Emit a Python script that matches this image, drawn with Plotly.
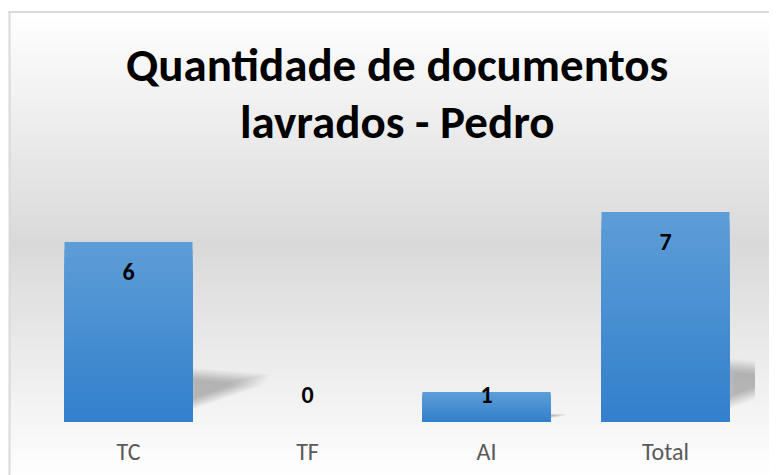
import plotly.graph_objects as go

categories = ["TC", "TF", "AI", "Total"]
values = [6, 0, 1, 7]
title_lines = ["Quantidade de documentos", "lavrados - Pedro"]

OFF = 8  # page body margin
W, H = 777 - OFF, 475 - OFF
# plot area in page pixels
PX0, PX1, PY0, PY1 = 38.5, 755.5, 182, 422
L, R, T, B = PX0 - OFF, W - (PX1 - OFF), PY0 - OFF, H - (PY1 - OFF)
PW, PH = W - L - R, H - T - B

FONT = "Carlito, Lato, 'Open Sans', sans-serif"
BARGAP = 0.285

def lerp(c1, c2, t):
    return tuple(round(a + (b - a) * t) for a, b in zip(c1, c2))

def px2paper_x(page_px):
    return (page_px - OFF - L) / PW

def px2paper_y(page_py):
    return 1 - (page_py - OFF - T) / PH

fig = go.Figure()

# gradient bars via overlaid traces
N = 24
top_c = (93, 157, 215)
bot_c = (51, 128, 204)
for k in range(N):
    frac = 1 - k / N
    c = lerp(top_c, bot_c, k / (N - 1))
    fig.add_trace(go.Bar(
        x=categories, y=[v * frac for v in values],
        marker=dict(color="rgb(%d,%d,%d)" % c, line=dict(width=0)),
        hoverinfo="skip", showlegend=False,
    ))

# data labels (inside end, kept clear of the baseline)
label_y = [max(v - 1.05, 0.84) for v in values]
fig.add_trace(go.Scatter(
    x=categories, y=label_y, mode="text", text=[str(v) for v in values],
    textposition="middle center",
    textfont=dict(family=FONT, size=24, color="#000000", weight="bold"),
    hoverinfo="skip", showlegend=False,
))

shapes = []
# background gradient bands (paper coordinates)
top_col = (255, 255, 255)
mid_col = (217, 217, 217)
bot_col = (254, 254, 254)
y_start, y_mid, y_end = 11, 245, 475
step = 4
y = 12
while y < 480:
    yc = y + step / 2
    if yc <= y_mid:
        c = lerp(top_col, mid_col, max(0, (yc - y_start)) / (y_mid - y_start))
    else:
        c = lerp(mid_col, bot_col, min(1, (yc - y_mid) / (y_end - y_mid)))
    shapes.append(dict(type="rect", xref="paper", yref="paper", layer="below",
                       x0=px2paper_x(9), x1=px2paper_x(790),
                       y0=px2paper_y(y + step + 0.5), y1=px2paper_y(y),
                       fillcolor="rgb(%d,%d,%d)" % c, line=dict(width=0)))
    y += step

# frame border (left & top)
shapes.append(dict(type="line", xref="paper", yref="paper", layer="below",
                   x0=px2paper_x(9), x1=px2paper_x(9), y0=px2paper_y(490), y1=px2paper_y(11),
                   line=dict(color="#d9d9d9", width=2)))
shapes.append(dict(type="line", xref="paper", yref="paper", layer="below",
                   x0=px2paper_x(8), x1=px2paper_x(790), y0=px2paper_y(12), y1=px2paper_y(12),
                   line=dict(color="#d9d9d9", width=2)))

# soft perspective shadows behind bars (data coordinates)
half = (1 - BARGAP) / 2
for i, v in enumerate(values):
    if v <= 0:
        continue
    xe = i + half
    pts = [(xe - 0.1, 0.06 * v), (xe - 0.1, 0.28 * v),
           (xe + 0.056 * v, 0.245 * v), (xe + 0.05 * v, 0.2 * v)]
    cx = sum(p[0] for p in pts) / 4
    cy = sum(p[1] for p in pts) / 4
    nl = 16
    for j in range(nl):
        s = 1.45 - 1.0 * j / (nl - 1)
        sp = [(cx + (px - cx) * s, max(cy + (py - cy) * s, 0)) for px, py in pts]
        path = "M %f,%f L %f,%f L %f,%f L %f,%f Z" % tuple(c for p in sp for c in p)
        shapes.append(dict(type="path", xref="x", yref="y", layer="below", path=path,
                           fillcolor="rgba(0,0,0,0.015)", line=dict(width=0)))

title_font = dict(family=FONT, size=47, color="#000000", weight="bold")
title_centers = [65, 122]  # page pixels

fig.update_layout(
    template="none",
    width=W, height=H,
    margin=dict(l=L, r=R, t=T, b=B, pad=0, autoexpand=False),
    paper_bgcolor="#ffffff", plot_bgcolor="rgba(0,0,0,0)",
    barmode="overlay", bargap=BARGAP,
    shapes=shapes,
    annotations=[dict(text=t, xref="paper", yref="paper",
                      x=px2paper_x(397.5), y=px2paper_y(yc), xanchor="center", yanchor="middle",
                      showarrow=False, font=title_font)
                 for t, yc in zip(title_lines, title_centers)],
    xaxis=dict(showgrid=False, zeroline=False, showline=False, ticks="", automargin=False,
               tickfont=dict(family=FONT, size=24, color="#595959"),
               ticklabelstandoff=13, fixedrange=True, range=[-0.5, 3.5]),
    yaxis=dict(range=[0, 8], visible=False, fixedrange=True, automargin=False,
               showgrid=False, zeroline=False),
    showlegend=False,
)

fig.write_html("out.html")
